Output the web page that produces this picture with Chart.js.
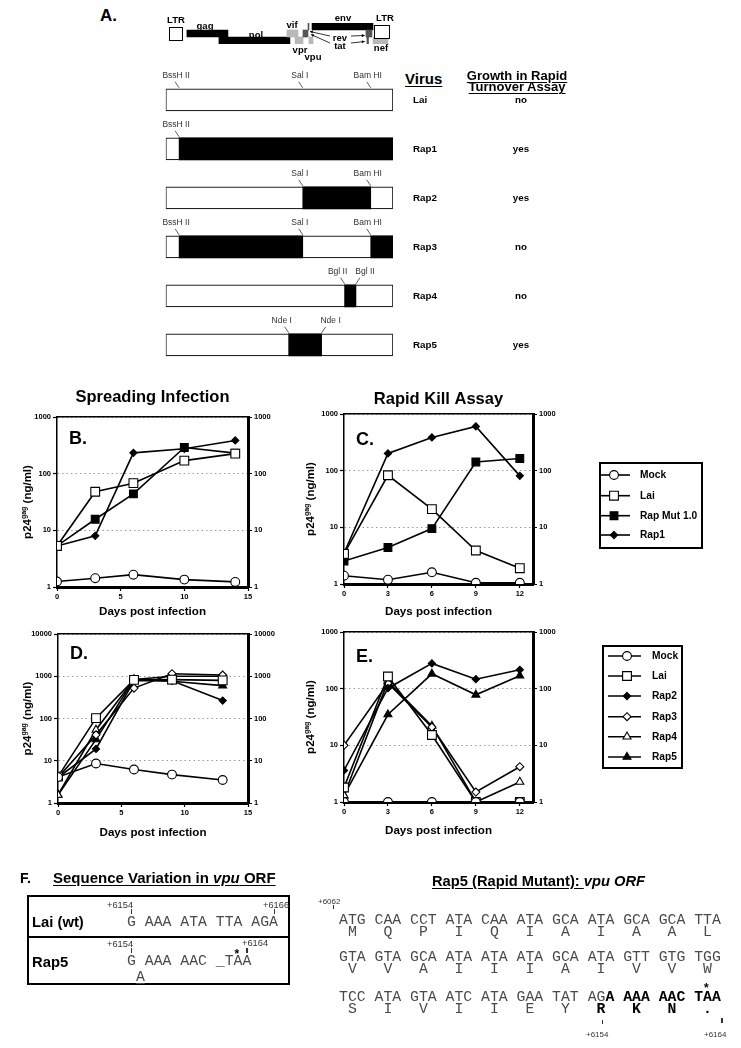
<!DOCTYPE html>
<html>
<head>
<meta charset="utf-8">
<title>Rapid mutants</title>
<script src="https://cdn.jsdelivr.net/npm/chart.js@4.4.1/dist/chart.umd.min.js"></script>
<style>
  body { margin: 0; width: 741px; height: 1048px; position: relative; background: #fff; overflow: hidden;
         font-family: "Liberation Sans", Arial, Helvetica, sans-serif; color: #000; }
  canvas, .t { position: absolute; }
  .t { white-space: pre; line-height: 1; }
  .b { font-weight: bold; }
  .u { text-decoration: underline; text-underline-offset: 2px; }
  .mono { font-family: "Liberation Mono", "Courier New", monospace; font-size: 14.8px; color: #4a4a4a; }
  .mono b { color: #000; }
  .num { font-size: 9.3px; color: #333; }
  .num2 { font-size: 8px; color: #333; }
  .tk { position: absolute; width: 1.5px; height: 5px; background: #333; }
</style>
</head>
<body>

<!-- panel A -->
<div class="t b" style="left:100px;top:7px;font-size:17px">A.</div>
<canvas id="genome" width="240" height="60" style="left:160px;top:10px"></canvas>
<div class="t b u" style="left:405px;top:70.6px;font-size:15px">Virus</div>
<div class="t b u" style="left:447px;top:70px;width:140px;text-align:center;font-size:13px;line-height:11px">Growth in Rapid</div>
<div class="t b u" style="left:447px;top:81px;width:140px;text-align:center;font-size:13px;line-height:11px">Turnover Assay</div>
<canvas id="constructs" width="450" height="320" style="left:150px;top:60px"></canvas>

<!-- panels B-E -->
<canvas id="chartB" width="300" height="250" style="left:0px;top:380px"></canvas>
<canvas id="chartC" width="451" height="250" style="left:290px;top:380px"></canvas>
<canvas id="chartD" width="300" height="240" style="left:0px;top:620px"></canvas>
<canvas id="chartE" width="451" height="240" style="left:290px;top:620px"></canvas>

<!-- panel F -->
<div class="t b" style="left:20px;top:871px;font-size:14px">F.</div>
<div class="t b u" style="left:53px;top:870.3px;font-size:15px">Sequence Variation in <i>vpu</i> ORF</div>
<div style="position:absolute;left:27px;top:895px;width:263px;height:90px;border:2px solid #000;box-sizing:border-box"></div>
<div style="position:absolute;left:27px;top:936px;width:263px;height:2px;background:#000"></div>
<div class="t b" style="left:32px;top:915px;font-size:14.8px">Lai (wt)</div>
<div class="t b" style="left:32px;top:954.8px;font-size:14.8px">Rap5</div>
<div class="t num" style="left:107px;top:900.5px">+6154</div>
<div class="tk" style="left:130.5px;top:909px"></div>
<div class="t num" style="left:263px;top:900.5px">+6166</div>
<div class="tk" style="left:273.5px;top:909px"></div>
<div class="t mono" style="left:127px;top:915px">G AAA ATA TTA AGA</div>
<div class="t num" style="left:107px;top:939.5px">+6154</div>
<div class="tk" style="left:130.5px;top:948px"></div>
<div class="t num" style="left:242px;top:938.5px">+6164</div>
<div class="tk" style="left:246px;top:948px"></div>
<div class="t b" style="left:234.5px;top:948px;font-size:12px">*</div>
<div class="t mono" style="left:127px;top:954px">G AAA AAC _TAA</div>
<div class="t mono u" style="left:135.9px;top:970px"><span>A</span></div>

<div class="t b" style="left:432px;top:873.6px;font-size:14.7px"><span class="u">Rap5 (Rapid Mutant): </span><i>vpu ORF</i></div>
<div class="t num2" style="left:318px;top:898px">+6062</div>
<div class="tk" style="left:332.5px;top:905px;height:4px"></div>
<div class="t mono" style="left:339px;top:913px">ATG CAA CCT ATA CAA ATA GCA ATA GCA GCA TTA</div>
<div class="t mono" style="left:339px;top:925px"> M   Q   P   I   Q   I   A   I   A   A   L</div>
<div class="t mono" style="left:339px;top:949.7px">GTA GTA GCA ATA ATA ATA GCA ATA GTT GTG TGG</div>
<div class="t mono" style="left:339px;top:962px"> V   V   A   I   I   I   A   I   V   V   W</div>
<div class="t b" style="left:704px;top:982px;font-size:12px">*</div>
<div class="t mono" style="left:339px;top:989.7px">TCC ATA GTA ATC ATA GAA TAT AG<b>A AAA AAC TAA</b></div>
<div class="t mono" style="left:339px;top:1002px"> S   I   V   I   I   E   Y   <b>R   K   N   .</b></div>
<div class="tk" style="left:601.5px;top:1020px;height:4px"></div>
<div class="t num2" style="left:586px;top:1031px">+6154</div>
<div class="tk" style="left:721px;top:1018px;height:5px"></div>
<div class="t num2" style="left:704px;top:1031px">+6164</div>

<script>
const FONT = '"Liberation Sans", Arial, Helvetica, sans-serif';
Chart.defaults.font.family = FONT;
Chart.defaults.color = '#000';

// ---- panel A: genome map (HIV-1 LAI coordinates, bp) ----
const genomeLength = 9719;
const geneNames = ['gag', 'pol', 'vif', 'vpr', 'tat', 'rev', 'vpu', 'env', 'tat2', 'rev2', 'nef'];
const geneStart = [820, 2210, 5160, 5510, 5857, 6074, 6117, 6250, 8590, 8630, 8894];
const geneEnd   = [2600, 5290, 5640, 5857, 6074, 6117, 6291, 8894, 8850, 8700, 9545];
const geneFrame = ['f1', 'f2', 'f1', 'f2', 'f1', 'f0', 'f2', 'f0', 'f1', 'f2', 'f2'];
const ltrStart = [43, 8937];
const ltrEnd = [650, 9631];

// ---- panel A: recombinant constructs (% of cloned fragment) ----
const viruses = ['Lai', 'Rap1', 'Rap2', 'Rap3', 'Rap4', 'Rap5'];
const growth = ['no', 'yes', 'yes', 'no', 'no', 'yes'];
const swapStart = [null, 5.9, 60.3, 5.9, 78.7, 54.1];
const swapEnd   = [null, 100, 90.2, 60.3, 83.7, 68.6];
const swap2Start = [null, null, null, 90.2, null, null];
const swap2End   = [null, null, null, 100, null, null];
const siteNames = [['BssH II', 'Sal I', 'Bam HI'], ['BssH II'], ['Sal I', 'Bam HI'],
                   ['BssH II', 'Sal I', 'Bam HI'], ['Bgl II', 'Bgl II'], ['Nde I', 'Nde I']];
const sitePos = [[5.9, 60.3, 90.2], [5.9], [60.3, 90.2], [5.9, 60.3, 90.2], [78.7, 83.7], [54.1, 68.6]];

// ---- panel B: spreading infection ----
const daysB = [0, 3, 6, 10, 14];
const mockB = [1.25, 1.43, 1.65, 1.35, 1.23];
const laiB = [5.3, 48, 68, 170, 226];
const rapMutB = [5.3, 15.7, 44, 290, 230];
const rap1B = [5.3, 8, 233, 275, 385];

// ---- panel C: rapid kill assay ----
const daysC = [0, 3, 6, 9, 12];
const mockC = [1.4, 1.19, 1.61, 1.05, 1.05];
const laiC = [3.4, 83, 21, 3.9, 1.9];
const rapMutC = [2.55, 4.4, 9.5, 142, 164];
const rap1C = [3.5, 201, 386, 604, 81];

// ---- panel D ----
const daysD = [0, 3, 6, 9, 13];
const mockD = [4.1, 8.6, 6.2, 4.7, 3.5];
const laiD = [4.2, 102, 822, 830, 800];
const rap2D = [4.0, 19, 790, 780, 265];
const rap3D = [4.0, 41, 524, 1150, 1070];
const rap4D = [1.55, 54, 840, 1000, 1000];
const rap5D = [1.55, 32, 830, 760, 600];

// ---- panel E ----
const daysE = [0, 3, 6, 9, 12];
const mockE = [1, 1, 1, 1, 1];
const laiE = [1.8, 164, 15.2, 1, 1];
const rap2E = [3.6, 102, 279, 147, 215];
const rap3E = [10, 125, 21, 1.5, 4.2];
const rap4E = [1.3, 134, 22, 1, 2.26];
const rap5E = [1.31, 35, 183, 78, 169];

const xTicks15 = [0, 5, 10, 15];
const xTicks12 = [0, 3, 6, 9, 12];
const yTicks3 = [1, 10, 100, 1000];
const yTicks4 = [1, 10, 100, 1000, 10000];

const styles = {
  mock:   { shape: 'circle',   r: 4.4, fill: '#fff' },
  lai:    { shape: 'rect',     r: 6.2, fill: '#fff' },
  rapMut: { shape: 'rect',     r: 5.5, fill: '#000' },
  rapD:   { shape: 'rectRot',  r: 3.6, fill: '#000' },
  rap3:   { shape: 'rectRot',  r: 4,   fill: '#fff' },
  rap4:   { shape: 'triangle', r: 4.6, fill: '#fff' },
  rap5:   { shape: 'triangle', r: 4.6, fill: '#000' }
};

function marker(ctx, shape, r, x, y) {
  ctx.beginPath();
  if (shape === 'circle') {
    ctx.arc(x, y, r, 0, Math.PI * 2);
  } else if (shape === 'rect') {
    const s = r * Math.SQRT1_2;
    ctx.rect(x - s, y - s, 2 * s, 2 * s);
  } else if (shape === 'rectRot') {
    ctx.moveTo(x, y - r); ctx.lineTo(x + r, y); ctx.lineTo(x, y + r); ctx.lineTo(x - r, y); ctx.closePath();
  } else {
    ctx.moveTo(x, y - r); ctx.lineTo(x + r * 0.866, y + r / 2); ctx.lineTo(x - r * 0.866, y + r / 2); ctx.closePath();
  }
  ctx.fill();
  ctx.stroke();
}

function arrow(ctx, x1, y1, x2, y2) {
  ctx.beginPath(); ctx.moveTo(x1, y1); ctx.lineTo(x2, y2); ctx.stroke();
  const a = Math.atan2(y2 - y1, x2 - x1), h = 3.2;
  ctx.beginPath(); ctx.moveTo(x2, y2);
  ctx.lineTo(x2 - h * Math.cos(a - 0.5), y2 - h * Math.sin(a - 0.5));
  ctx.lineTo(x2 - h * Math.cos(a + 0.5), y2 - h * Math.sin(a + 0.5));
  ctx.closePath(); ctx.fill();
}

// genome map: LTR boxes, gene names, rev/tat arrows
const genomeDeco = {
  id: 'genomeDeco',
  afterDatasetsDraw(chart) {
    const { ctx, scales: { x, y } } = chart;
    ctx.save();
    ctx.strokeStyle = '#000'; ctx.fillStyle = '#fff'; ctx.lineWidth = 1;
    const ltrTop = [y.getPixelForValue(1) - 6.5, y.getPixelForValue(0) - 1.5];
    ltrStart.forEach((s, i) => {
      const x1 = x.getPixelForValue(s), x2 = x.getPixelForValue(ltrEnd[i]);
      ctx.fillRect(x1, ltrTop[i], x2 - x1, 14);
      ctx.strokeRect(x1 + 0.5, ltrTop[i] + 0.5, x2 - x1 - 1, 13);
    });
    ctx.fillStyle = '#000';
    ctx.textAlign = 'center'; ctx.textBaseline = 'middle';
    ctx.font = 'bold 9.5px ' + FONT;
    const labels = [['LTR', 347, 10], ['gag', 1605, 16.5], ['pol', 3818, 25.5], ['vif', 5380, 15],
                    ['env', 7592, 8.5], ['LTR', 9414, 8.5], ['vpr', 5727, 40], ['vpu', 6291, 47.5],
                    ['rev', 7462, 28], ['tat', 7462, 36.5], ['nef', 9241, 38.5]];
    labels.forEach(l => ctx.fillText(l[0], x.getPixelForValue(l[1]), l[2]));
    ctx.strokeStyle = '#000'; ctx.lineWidth = 0.8;
    const left = x.getPixelForValue(6120), right = x.getPixelForValue(8620);
    arrow(ctx, x.getPixelForValue(7460) - 10, 26, left + 1, 21.5);
    arrow(ctx, x.getPixelForValue(7460) - 10, 33, left + 2, 24.5);
    arrow(ctx, x.getPixelForValue(7460) + 11, 26, right - 2, 25.5);
    arrow(ctx, x.getPixelForValue(7460) + 11, 33, right - 2, 31.5);
    ctx.restore();
  }
};

new Chart(document.getElementById('genome'), {
  type: 'bar',
  data: {
    labels: ['f0', 'f1', 'f2'],
    datasets: [{
      data: geneNames.map((g, i) => ({ x: [geneStart[i], geneEnd[i]], y: geneFrame[i] })),
      backgroundColor: geneNames.map(g => (g === 'gag' || g === 'pol' || g === 'env') ? '#000'
        : (g.startsWith('tat') || g.startsWith('rev')) ? '#555' : '#b8b8b8'),
      borderWidth: 0, barPercentage: 1, categoryPercentage: 1
    }]
  },
  options: {
    indexAxis: 'y', responsive: false, animation: false, events: [],
    layout: { padding: { left: 8, right: 8, top: 13, bottom: 26 } },
    plugins: { legend: { display: false }, tooltip: { enabled: false } },
    scales: {
      x: { type: 'linear', min: 0, max: genomeLength, display: false },
      y: { type: 'category', display: false }
    }
  },
  plugins: [genomeDeco]
});

// construct bars: restriction sites, virus names, growth result
const constructDeco = {
  id: 'constructDeco',
  afterDatasetsDraw(chart) {
    const { ctx, scales: { x, y } } = chart;
    ctx.save();
    viruses.forEach((v, i) => {
      const yc = y.getPixelForValue(i), top = yc - 11;
      ctx.fillStyle = '#000';
      ctx.textBaseline = 'middle';
      ctx.font = 'bold 9.8px ' + FONT;
      ctx.textAlign = 'left';
      ctx.fillText(v, 263, yc);
      ctx.textAlign = 'center';
      ctx.fillText(growth[i], 371, yc);
      const pair = sitePos[i].length === 2 && siteNames[i][0] === siteNames[i][1];
      sitePos[i].forEach((p, j) => {
        const xs = x.getPixelForValue(p);
        let tx = xs - 3, lx = xs - 4;
        if (pair && j === 0) { tx = xs - 7; lx = xs - 4; }
        if (pair && j === 1) { tx = xs + 9; lx = xs + 4; }
        ctx.fillStyle = '#333';
        ctx.font = '8.5px ' + FONT;
        ctx.fillText(siteNames[i][j], tx, top - 13);
        ctx.strokeStyle = '#333'; ctx.lineWidth = 0.8;
        ctx.beginPath(); ctx.moveTo(lx, top - 7); ctx.lineTo(xs, top - 1); ctx.stroke();
      });
    });
    ctx.restore();
  }
};

new Chart(document.getElementById('constructs'), {
  type: 'bar',
  data: {
    labels: viruses,
    datasets: [
      { data: viruses.map(() => [0, 100]), backgroundColor: '#fff', borderColor: '#222', borderWidth: 1.2,
        borderSkipped: false, grouped: false, barThickness: 22, order: 3 },
      { data: swapStart.map((s, i) => s === null ? null : [s, swapEnd[i]]), backgroundColor: '#000',
        borderWidth: 0, grouped: false, barThickness: 22, order: 1 },
      { data: swap2Start.map((s, i) => s === null ? null : [s, swap2End[i]]), backgroundColor: '#000',
        borderWidth: 0, grouped: false, barThickness: 22, order: 1 }
    ]
  },
  options: {
    indexAxis: 'y', responsive: false, animation: false, events: [],
    layout: { padding: { left: 15.7, right: 207, top: 15.3, bottom: 10.7 } },
    plugins: { legend: { display: false }, tooltip: { enabled: false } },
    scales: {
      x: { type: 'linear', min: 0, max: 100, display: false },
      y: { type: 'category', display: false }
    }
  },
  plugins: [constructDeco]
});

// titles, panel letter, axis titles and legend for the log charts
const panelDeco = {
  id: 'panelDeco',
  afterDraw(chart, args, o) {
    const { ctx, chartArea: a } = chart;
    const cx = (a.left + a.right) / 2, cy = (a.top + a.bottom) / 2;
    ctx.save();
    ctx.fillStyle = '#000';
    ctx.textBaseline = 'middle';
    ctx.textAlign = 'center';
    if (o.title) {
      ctx.font = 'bold 16.5px ' + FONT;
      ctx.fillText(o.title, cx, a.top - o.titleGap);
    }
    ctx.font = 'bold 11.6px ' + FONT;
    ctx.fillText('Days post infection', cx, a.bottom + o.xTitleGap);
    ctx.textAlign = 'left';
    ctx.font = 'bold 18px ' + FONT;
    ctx.fillText(o.letter, a.left + 12, a.top + o.letterGap);

    ctx.save();
    ctx.translate(a.left - o.yTitleGap, cy);
    ctx.rotate(-Math.PI / 2);
    const parts = [['p24', 11.5, 0], ['gag', 7, -3.5], [' (ng/ml)', 11.5, 0]];
    let total = 0;
    parts.forEach(p => { ctx.font = 'bold ' + p[1] + 'px ' + FONT; total += ctx.measureText(p[0]).width; });
    let px = -total / 2;
    parts.forEach(p => {
      ctx.font = 'bold ' + p[1] + 'px ' + FONT;
      ctx.fillText(p[0], px, p[2]);
      px += ctx.measureText(p[0]).width;
    });
    ctx.restore();

    if (o.legend) {
      const L = o.legend;
      ctx.strokeStyle = '#000';
      ctx.lineWidth = 2;
      ctx.strokeRect(L.x, L.y, L.w, L.h);
      chart.data.datasets.forEach((ds, i) => {
        const yy = L.rows[i];
        ctx.strokeStyle = '#000';
        ctx.lineWidth = 1.6;
        ctx.beginPath(); ctx.moveTo(L.x1, yy); ctx.lineTo(L.x2, yy); ctx.stroke();
        ctx.fillStyle = ds.pointBackgroundColor;
        ctx.lineWidth = 1.1;
        marker(ctx, ds.pointStyle, ds.pointRadius, L.xm, yy);
        ctx.fillStyle = '#000';
        ctx.font = 'bold 10.2px ' + FONT;
        ctx.textAlign = 'left';
        ctx.fillText(ds.label, L.xt, yy);
      });
    }
    ctx.restore();
  }
};

function logChart(id, o) {
  const tickFont = { family: FONT, size: 7.5, weight: 'bold' };
  return new Chart(document.getElementById(id), {
    type: 'line',
    data: {
      datasets: o.series.map(s => ({
        label: s.label,
        data: o.days.map((d, i) => ({ x: d, y: s.values[i] })),
        borderColor: '#000', borderWidth: 1.6, tension: 0,
        pointStyle: s.style.shape, pointRadius: s.style.r,
        pointBackgroundColor: s.style.fill, pointBorderColor: '#000', pointBorderWidth: 1.1
      }))
    },
    options: {
      responsive: false, animation: false, events: [],
      layout: { padding: o.pad },
      plugins: { legend: { display: false }, tooltip: { enabled: false }, panelDeco: o.deco },
      scales: {
        x: {
          type: 'linear', position: 'bottom', min: 0, max: o.xMax,
          afterBuildTicks: s => { s.ticks = o.xTicks.map(v => ({ value: v })); },
          afterFit: s => { s.height = o.xH; },
          ticks: { font: tickFont, padding: 1, autoSkip: false, maxRotation: 0, callback: v => String(v) },
          grid: { drawOnChartArea: false, tickLength: 4, tickColor: '#000', tickWidth: 1.2 },
          border: { color: '#000', width: 3 }
        },
        xTop: {
          type: 'linear', position: 'top', min: 0, max: o.xMax,
          afterFit: s => { s.height = 0; },
          ticks: { display: false }, grid: { display: false, drawTicks: false },
          border: { color: '#000', width: 1.5 }
        },
        y: {
          type: 'logarithmic', position: 'left', min: 1, max: o.yMax,
          afterBuildTicks: s => { s.ticks = o.yTicks.map(v => ({ value: v })); },
          afterFit: s => { s.width = o.yW; },
          ticks: { font: tickFont, padding: 2, autoSkip: false, callback: v => String(v) },
          grid: { color: '#9a9a9a', lineWidth: 1, tickLength: 4, tickColor: '#000', tickWidth: 1.2, tickBorderDash: [] },
          border: { color: '#000', width: 1.5, dash: [1.5, 3] }
        },
        y2: {
          type: 'logarithmic', position: 'right', min: 1, max: o.yMax,
          afterBuildTicks: s => { s.ticks = o.yTicks.map(v => ({ value: v })); },
          afterFit: s => { s.width = 40; },
          ticks: { font: tickFont, padding: 2, autoSkip: false, callback: v => String(v) },
          grid: { drawOnChartArea: false, tickLength: 4, tickColor: '#000', tickWidth: 1.2 },
          border: { color: '#000', width: 3 }
        }
      }
    },
    plugins: [panelDeco]
  });
}

logChart('chartB', {
  days: daysB, xMax: 15, xTicks: xTicks15, yMax: 1000, yTicks: yTicks3,
  pad: { left: 0, right: 12, top: 37, bottom: 0 }, yW: 57, xH: 43,
  series: [
    { label: 'Mock', values: mockB, style: styles.mock },
    { label: 'Lai', values: laiB, style: styles.lai },
    { label: 'Rap Mut 1.0', values: rapMutB, style: styles.rapMut },
    { label: 'Rap1', values: rap1B, style: styles.rapD }
  ],
  deco: { title: 'Spreading Infection', titleGap: 20, letter: 'B.', letterGap: 22, xTitleGap: 25, yTitleGap: 29 }
});

logChart('chartC', {
  days: daysC, xMax: 12.9, xTicks: xTicks12, yMax: 1000, yTicks: yTicks3,
  pad: { left: 0, right: 168, top: 34, bottom: 0 }, yW: 54, xH: 46,
  series: [
    { label: 'Mock', values: mockC, style: styles.mock },
    { label: 'Lai', values: laiC, style: styles.lai },
    { label: 'Rap Mut 1.0', values: rapMutC, style: styles.rapMut },
    { label: 'Rap1', values: rap1C, style: styles.rapD }
  ],
  deco: { title: 'Rapid Kill Assay', titleGap: 15, letter: 'C.', letterGap: 26, xTitleGap: 28, yTitleGap: 33,
          legend: { x: 310, y: 83, w: 102, h: 85, rows: [95, 115.7, 135.7, 155], x1: 310, x2: 340, xm: 324, xt: 350 } }
});

logChart('chartD', {
  days: daysD, xMax: 15, xTicks: xTicks15, yMax: 10000, yTicks: yTicks4,
  pad: { left: 0, right: 12, top: 14, bottom: 0 }, yW: 58, xH: 57,
  series: [
    { label: 'Mock', values: mockD, style: styles.mock },
    { label: 'Lai', values: laiD, style: styles.lai },
    { label: 'Rap2', values: rap2D, style: styles.rapD },
    { label: 'Rap3', values: rap3D, style: styles.rap3 },
    { label: 'Rap4', values: rap4D, style: styles.rap4 },
    { label: 'Rap5', values: rap5D, style: styles.rap5 }
  ],
  deco: { letter: 'D.', letterGap: 20, xTitleGap: 30, yTitleGap: 30 }
});

logChart('chartE', {
  days: daysE, xMax: 12.9, xTicks: xTicks12, yMax: 1000, yTicks: yTicks3,
  pad: { left: 0, right: 168, top: 12, bottom: 0 }, yW: 54, xH: 58,
  series: [
    { label: 'Mock', values: mockE, style: styles.mock },
    { label: 'Lai', values: laiE, style: styles.lai },
    { label: 'Rap2', values: rap2E, style: styles.rapD },
    { label: 'Rap3', values: rap3E, style: styles.rap3 },
    { label: 'Rap4', values: rap4E, style: styles.rap4 },
    { label: 'Rap5', values: rap5E, style: styles.rap5 }
  ],
  deco: { letter: 'E.', letterGap: 25, xTitleGap: 29, yTitleGap: 33,
          legend: { x: 313, y: 26, w: 79, h: 122, rows: [36, 56, 76, 96.7, 116.7, 137], x1: 318, x2: 351, xm: 337, xt: 362 } }
});
</script>
</body>
</html>
